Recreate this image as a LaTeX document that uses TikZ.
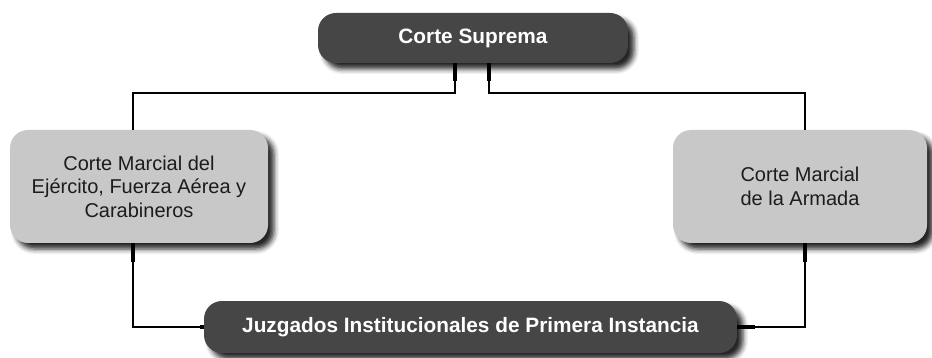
\documentclass[tikz,border=0pt]{standalone}
\usepackage{fontspec}
\setmainfont{Liberation Sans}
\usetikzlibrary{shadows.blur}
\definecolor{darkbox}{HTML}{464646}
\definecolor{lightbox}{HTML}{C8C8C8}
\definecolor{boxtext}{HTML}{1C1C1C}
\begin{document}
\begin{tikzpicture}[x=1pt,y=-1pt,
  dshadow/.style={blur shadow={shadow xshift=6pt,shadow yshift=-6pt,shadow blur radius=5pt,shadow opacity=85}},
  darknode/.style={rectangle,rounded corners=18pt,fill=darkbox,text=white,
    font=\bfseries\fontsize{20.8}{24}\selectfont,dshadow,inner sep=0pt},
  lightnode/.style={rectangle,rounded corners=18pt,fill=lightbox,text=boxtext,
    font=\fontsize{20}{23.5}\selectfont,align=center,dshadow,inner sep=0pt},
  conn/.style={line width=2.4pt,black},
  stubline/.style={line width=4.5pt,black}]
\useasboundingbox (0,0) rectangle (932,358);

\node[darknode,minimum width=310pt,minimum height=50pt] (top) at (473,38) {Corte Suprema};
\node[lightnode,minimum width=258pt,minimum height=113pt] (left) at (139,186.5)
  {Corte Marcial del\\Ejército, Fuerza Aérea y\\Carabineros};
\node[lightnode,minimum width=254pt,minimum height=113pt] (right) at (800,186.5)
  {Corte Marcial\\de la Armada};
\node[darknode,minimum width=533pt,minimum height=52pt] (bottom) at (470.5,327)
  {Juzgados Institucionales de Primera Instancia};

\draw[conn] ([xshift=-18pt]top.south) -- ++(0,30) -| ([xshift=-6pt]left.north);
\draw[stubline] ([xshift=-18pt]top.south) -- ++(0,18);
\draw[conn] ([xshift=16pt]top.south) -- ++(0,30) -| ([xshift=5pt]right.north);
\draw[stubline] ([xshift=16pt]top.south) -- ++(0,18);

\draw[conn] ([xshift=-6pt]left.south) |- (bottom.west);
\draw[stubline] ([xshift=-6pt]left.south) -- ++(0,19);
\draw[conn] ([xshift=5pt]right.south) |- (bottom.east);
\draw[stubline] ([xshift=5pt]right.south) -- ++(0,19);
\draw[stubline] (bottom.east) -- ++(18,0);
\draw[stubline] (bottom.west) -- ++(-4,0);
\end{tikzpicture}
\end{document}
